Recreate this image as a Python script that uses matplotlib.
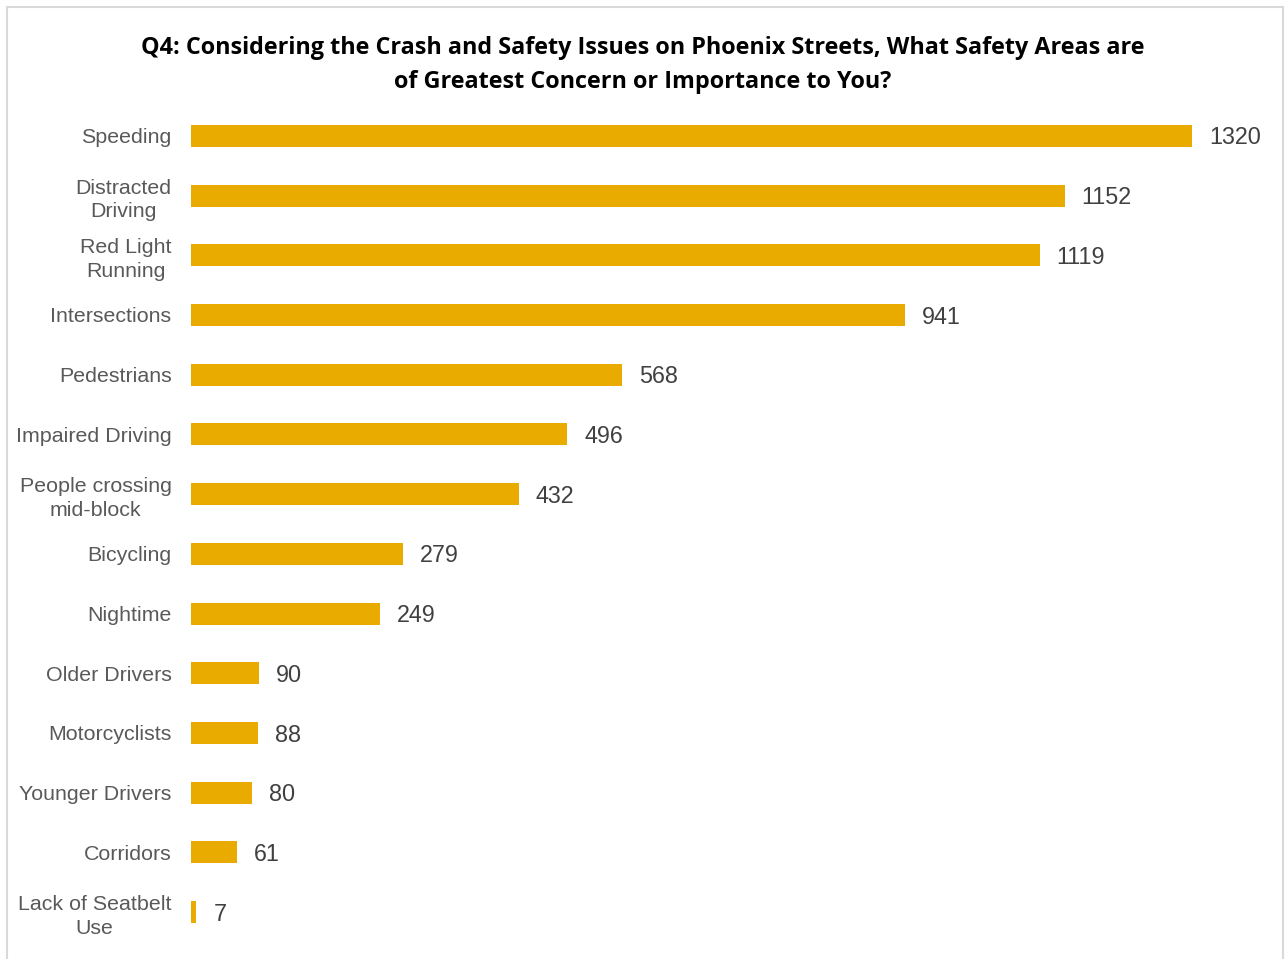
import matplotlib
matplotlib.use("Agg")
import matplotlib.pyplot as plt
from matplotlib.patches import Rectangle

# Survey data
categories = ["Speeding", "Distracted\nDriving", "Red Light\nRunning", "Intersections",
              "Pedestrians", "Impaired Driving", "People crossing\nmid-block", "Bicycling",
              "Nightime", "Older Drivers", "Motorcyclists", "Younger Drivers", "Corridors",
              "Lack of Seatbelt\nUse"]
counts = [1320, 1152, 1119, 941, 568, 496, 432, 279, 249, 90, 88, 80, 61, 7]

title = ("Q4: Considering the Crash and Safety Issues on Phoenix Streets, What Safety Areas are\n"
         "of Greatest Concern or Importance to You?")

bar_color = "#EAAB00"

fig = plt.figure(figsize=(12.86, 9.59), dpi=100)
ax = fig.add_axes([191 / 1286, 1 - 942 / 959, (1192 - 191) / 1286, 836 / 959])

# Draw the bars
pos = list(range(len(categories)))
ax.barh(pos, counts, height=0.37, color=bar_color)
ax.set_ylim(len(categories) - 0.5, -0.5)
ax.set_xlim(0, max(counts))

# Value labels next to each bar
for p, c in zip(pos, counts):
    ax.annotate(str(c), (c, p), xytext=(17, -2), textcoords="offset pixels",
                va="center", ha="left", fontsize=16.8, color="#404040",
                family="Liberation Sans", annotation_clip=False)

# Category labels
ax.set_yticks(pos)
ax.set_yticklabels(categories, fontsize=15.4, color="#595959", family="Liberation Sans",
                   multialignment="center", linespacing=1.3)
ax.tick_params(axis="y", length=0, pad=14)
ax.set_xticks([])
for s in ax.spines.values():
    s.set_visible(False)

# Title
fig.text(0.5, 1 - 65 / 959, title, ha="center", va="center", fontsize=16.8,
         fontweight="bold", family="Open Sans", linespacing=1.5)

# Light chart border
fig.patches.append(Rectangle((7 / 1286, -0.01), 1276 / 1286, 1 - 7 / 959 + 0.01,
                             transform=fig.transFigure, fill=False,
                             edgecolor="#D9D9D9", linewidth=1.5))

fig.savefig("out.png", dpi=100)
